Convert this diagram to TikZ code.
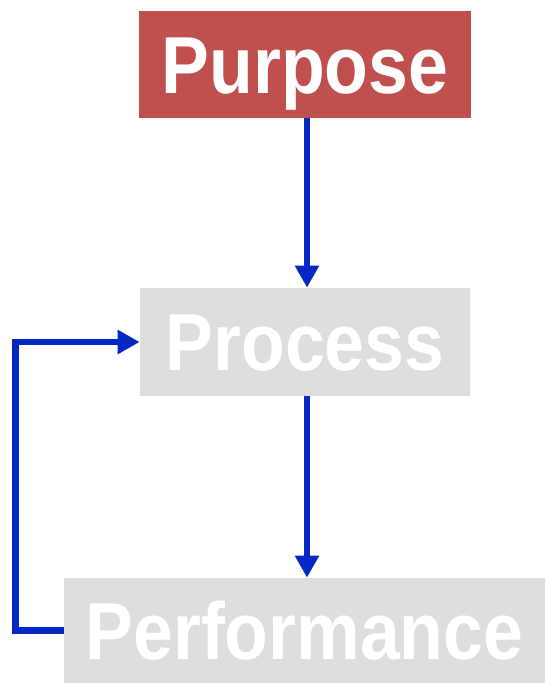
\documentclass[tikz,border=0pt]{standalone}
\usepackage{fontspec}
\setmainfont{Liberation Sans}
\usetikzlibrary{arrows.meta}
\definecolor{purposered}{RGB}{192,80,77}
\definecolor{boxgray}{RGB}{222,222,222}
\definecolor{linkblue}{RGB}{4,40,196}
\newcommand{\narrow}[1]{\scalebox{0.886}[1]{#1}}
\tikzset{
  stage/.style={fill=boxgray,text=white,inner sep=0pt,text height=33pt,text depth=0pt},
  link/.style={->,draw=linkblue,line width=0.13cm}
}
\begin{document}
\begin{tikzpicture}[x=0.02cm,y=-0.02cm,>={Triangle[length=0.44cm,width=0.46cm]},line join=miter,font=\fontsize{46}{50}\selectfont\bfseries]
				\useasboundingbox (0,0) rectangle (545,683);
				\node[stage,fill=purposered,minimum width=6.64cm,minimum height=2.14cm] (purpose) at (305,64.5) {\narrow{Purpose}};
				\node[stage,minimum width=6.6cm,minimum height=2.16cm] (process) at (305,342) {\narrow{Process}};
				\node[stage,minimum width=9.62cm,minimum height=2.1cm] (performance) at (304.5,630.5) {\narrow{Performance}};
				\draw[link] (purpose.south -| 307,0) -- (process.north -| 307,0);
				\draw[link] (process.south -| 307,0) -- (performance.north -| 307,0);
				\draw[link] (performance.west) -- ++(-48,0) |- (process.west);
			\end{tikzpicture}
\end{document}
